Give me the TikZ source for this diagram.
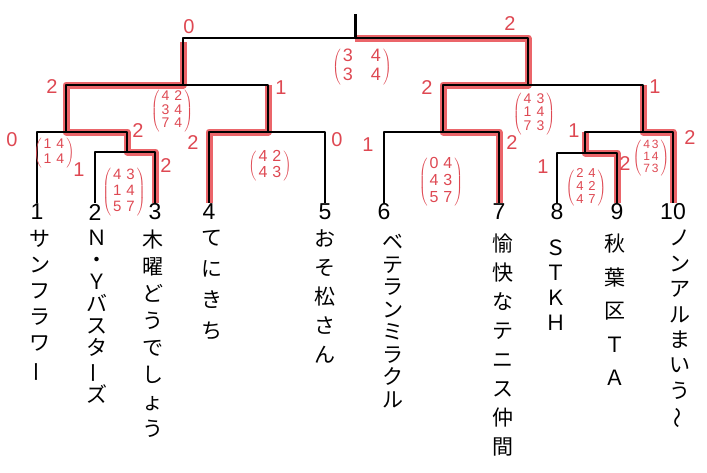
\documentclass[tikz,border=0pt]{standalone}
\usepackage{fontspec}
\usepackage{graphicx}
\setmainfont{Liberation Sans}
\newfontfamily\jp{Noto Sans CJK JP}
\definecolor{pen}{RGB}{222,72,82}
\definecolor{hl}{RGB}{232,74,80}
\newcommand{\pmat}[1]{$\left(\begin{tabular}{@{\hspace{2pt}}c@{\hspace{2pt}}}#1\end{tabular}\right)$}
\newcommand{\vbar}[1]{\rotatebox[origin=c]{90}{#1}}
\newcommand{\cs}{\hspace{5pt}}
\tikzset{
  br/.style={draw=black, line width=2pt},
  win/.style={draw=hl, line width=7pt, opacity=0.85},
  num/.style={font=\fontsize{23}{23}\selectfont, inner sep=1pt},
  tate/.style={font=\jp\fontsize{21}{#1}\selectfont, align=center, anchor=north, inner sep=0pt},
  sc/.style={text=pen, font=\fontsize{20}{20}\selectfont, inner sep=0pt},
  mat/.style 2 args={text=pen, inner sep=0pt, font=\fontsize{#1}{#2}\selectfont},
}
\begin{document}
\begin{tikzpicture}[x=1pt,y=-1pt,line join=round]
\useasboundingbox (0,0) rectangle (707,472);
% team numbers
\node[num] (n1) at (37,212) {1};
\node[num] (n2) at (95,212) {2};
\node[num] (n3) at (155,212) {3};
\node[num] (n4) at (209,212) {4};
\node[num] (n5) at (325,212) {5};
\node[num] (n6) at (384,212) {6};
\node[num] (n7) at (499,212) {7};
\node[num] (n8) at (557,212) {8};
\node[num] (n9) at (617,212) {9};
\node[num] (n10) at (673,212) {10};
% junctions
\coordinate (j23) at (127,152);
\coordinate (j1) at (66,132);
\coordinate (j45) at (268,132);
\coordinate (jL) at (183,85);
\coordinate (j67) at (443,132);
\coordinate (j89) at (585,153);
\coordinate (j910) at (643,132);
\coordinate (jR) at (528,85);
\coordinate (jF) at (355,38);
\coordinate (jT) at (355,14);
% winner highlights
\draw[win] (n3.north) |- (j23) |- (j1) |- (jL) -- (jL |- 0,42);
\draw[win] (n4.north) |- (j45) -- (j45 |- jL);
\draw[win] (n7.north) |- (j67) |- (jR) |- (jF);
\draw[win] (n9.north) |- (j89) -- (j89 |- j910);
\draw[win] (n10.north) |- (j910) -- (j910 |- jR);
% bracket
\draw[br] (n2.north) |- (j23) -| (n3.north);
\draw[br] (n1.north) |- (j1) -| (j23);
\draw[br] (n4.north) |- (j45) -| (n5.north);
\draw[br] (j1) |- (jL) -| (j45);
\draw[br] (n6.north) |- (j67) -| (n7.north);
\draw[br] (n8.north) |- (j89) -| (n9.north);
\draw[br] (j89) |- (j910) -| (n10.north);
\draw[br] (j67) |- (jR) -| (j910);
\draw[br] (jL) |- (jF) -| (jR);
\draw[br, line width=3pt] (jF) -- (jT);
% scores
\node[sc] (s1) at (189,27) {0};
\node[sc] (s2) at (510,24) {2};
\node[mat={18}{19}] (m1) at (362,67) {\pmat{3\hspace{18pt}4\\3\hspace{18pt}4}};
\node[sc] (s3) at (52,87) {2};
\node[sc] (s4) at (281,88) {1};
\node[mat={14}{13}] (m2) at (172,111) {\pmat{4\cs2\\3\cs4\\7\cs4}};
\node[sc] (s5) at (427,88) {2};
\node[sc] (s6) at (655,87) {1};
\node[mat={14}{13}] (m3) at (534,114) {\pmat{4\cs3\\1\cs4\\7\cs3}};
\node[sc] (s7) at (574,131) {1};
\node[sc] (s8) at (12,140) {0};
\node[mat={14}{15}] (m4) at (54,153) {\pmat{1\cs4\\1\cs4}};
\node[sc] (s9) at (79,170) {1};
\node[sc] (s10) at (138,131) {2};
\node[mat={15}{16}] (m5) at (124,192) {\pmat{4\cs3\\1\cs4\\5\cs7}};
\node[sc] (s11) at (166,166) {2};
\node[sc] (s12) at (193,143) {2};
\node[mat={16}{16}] (m6) at (270,166) {\pmat{4\cs2\\4\cs3}};
\node[sc] (s13) at (337,140) {0};
\node[sc] (s14) at (368,145) {1};
\node[mat={16}{17}] (m7) at (441,182) {\pmat{0\cs4\\4\cs3\\5\cs7}};
\node[sc] (s15) at (512,143) {2};
\node[sc] (s16) at (543,167) {1};
\node[mat={13}{13}] (m8) at (586,188) {\pmat{2\cs4\\4\cs2\\4\cs7}};
\node[sc] (s17) at (625,164) {2};
\node[mat={12}{12}] (m9) at (651,158) {\pmat{4\,3\\1\,4\\7\,3}};
\node[sc] (s18) at (690,138) {2};
% team names
\node[tate=26] (t1) at (40,230) {サ\\ン\\フ\\ラ\\ワ\\\vbar{ー}};
\node[tate=22] (t2) at (97,230) {Ｎ\\・\\Ｙ\\バ\\ス\\タ\\\vbar{ー}\\ズ};
\node[tate=27] (t3) at (153,230) {木\\曜\\ど\\う\\で\\し\\ょ\\う};
\node[tate=31] (t4) at (212,230) {て\\に\\き\\ち};
\node[tate=29] (t5) at (325,230) {お\\そ\\松\\さ\\ん};
\node[tate=22.5] (t6) at (393,234) {ベ\\テ\\ラ\\ン\\ミ\\ラ\\ク\\ル};
\node[tate=29] (t7) at (503,234) {愉\\快\\な\\テ\\ニ\\ス\\仲\\間};
\node[tate=25] (t8) at (556,240) {Ｓ\\Ｔ\\Ｋ\\Ｈ};
\node[tate=33.5] (t9) at (615,234) {秋\\葉\\区\\Ｔ\\Ａ};
\node[tate=25.4] (t10) at (680,230) {ノ\\ン\\ア\\ル\\ま\\い\\う\\\vbar{～}};
\end{tikzpicture}
\end{document}
